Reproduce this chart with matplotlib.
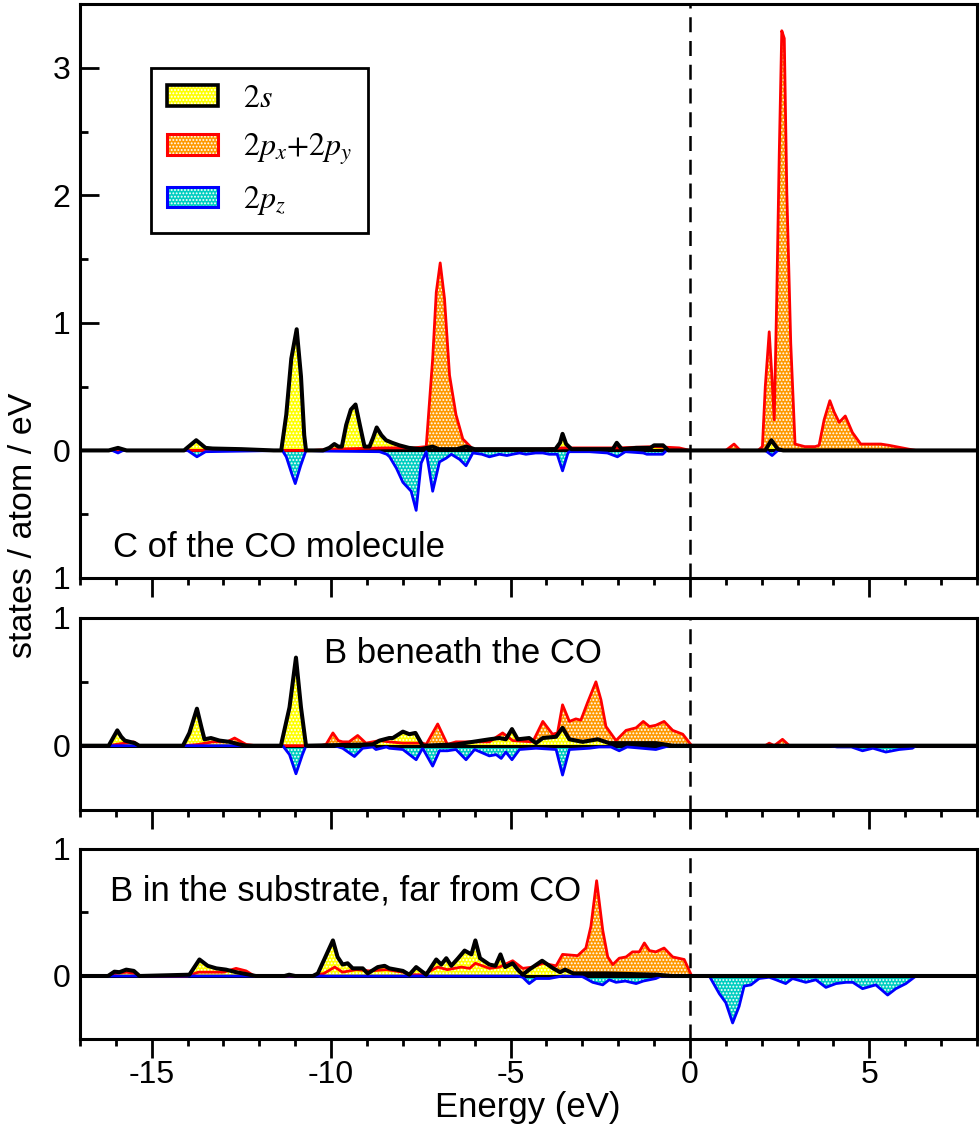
import numpy as np
import matplotlib
matplotlib.use("Agg")
import matplotlib.pyplot as plt
from matplotlib.patches import Patch
from matplotlib.ticker import MultipleLocator, FixedLocator, FixedFormatter

plt.rcParams['font.family'] = ['Liberation Sans', 'DejaVu Sans']
plt.rcParams['mathtext.fontset'] = 'stix'
plt.rcParams['axes.unicode_minus'] = False
plt.rcParams['hatch.linewidth'] = 0.9

# ---- data: (energy eV, states/atom/eV) ----
# top panel: C of the CO molecule
c_2s = [(-17, 0), (-16.2, 0), (-15.94, 0.02), (-15.7, 0), (-14.1, 0), (-13.76, 0.08),
        (-13.5, 0.02), (-13.3, 0.015), (-12.5, 0.01), (-11.6, 0), (-11.39, 0), (-11.25, 0.28),
        (-11.11, 0.72), (-10.96, 0.95), (-10.84, 0.58), (-10.75, 0.12), (-10.70, 0),
        (-10.23, 0), (-10.05, 0.02), (-9.91, 0.05), (-9.8, 0.03), (-9.7, 0.03), (-9.58, 0.2),
        (-9.45, 0.32), (-9.32, 0.36), (-9.2, 0.2), (-9.07, 0.03), (-8.93, 0.03), (-8.83, 0.1),
        (-8.73, 0.18), (-8.6, 0.12), (-8.47, 0.08), (-8.3, 0.06), (-8.1, 0.04), (-7.83, 0.02),
        (-7.5, 0.01), (-7.17, 0.03), (-7.0, 0.01), (-6.5, 0.01), (-6.24, 0.03), (-6.0, 0.01),
        (-5.0, 0.01), (-4.0, 0.01), (-3.75, 0.01), (-3.62, 0.06), (-3.55, 0.13), (-3.45, 0.05),
        (-3.3, 0.01), (-2.5, 0.01), (-2.15, 0.01), (-2.04, 0.06), (-1.9, 0.01), (-1.5, 0.02),
        (-1.1, 0.02), (-1.0, 0.04), (-0.75, 0.04), (-0.6, 0), (1.8, 0), (2.1, 0), (2.27, 0.08),
        (2.45, 0.01), (2.6, 0), (8, 0)]
c_pxy = [(-17, 0), (-10.5, 0), (-10, 0.01), (-8.5, 0.02), (-7.7, 0.02), (-7.35, 0.03),
         (-7.17, 0.72), (-7.07, 1.24), (-6.96, 1.47), (-6.84, 1.19), (-6.70, 0.59), (-6.52, 0.28),
         (-6.33, 0.09), (-6.05, 0.01), (-4, 0.01), (-3.55, 0.02), (-2, 0.02), (-1.0, 0.03),
         (-0.3, 0.02), (0, 0), (1.0, 0), (1.23, 0.05), (1.4, 0), (1.9, 0), (2.02, 0.03),
         (2.1, 0.5), (2.21, 0.93), (2.28, 0.6), (2.35, 0.24), (2.42, 1.2), (2.49, 2.33),
         (2.56, 3.29), (2.63, 3.23), (2.7, 2.03), (2.81, 0.84), (2.93, 0.05), (3.2, 0.03),
         (3.49, 0.03), (3.6, 0.04), (3.74, 0.24), (3.9, 0.39), (4.02, 0.3), (4.16, 0.22),
         (4.33, 0.27), (4.53, 0.14), (4.76, 0.05), (5.32, 0.05), (5.55, 0.04), (6.1, 0.01),
         (6.3, 0), (8, 0)]
c_pz = [(-17, 0), (-16.1, 0), (-15.94, -0.02), (-15.8, 0), (-14.0, 0), (-13.74, -0.05),
        (-13.5, -0.01), (-11.36, 0), (-11.25, -0.05), (-11.1, -0.18), (-11.0, -0.26),
        (-10.85, -0.12), (-10.7, 0), (-10.2, -0.005), (-8.65, -0.01), (-8.45, -0.03),
        (-8.37, -0.05), (-8.18, -0.14), (-8.0, -0.25), (-7.77, -0.32), (-7.63, -0.47),
        (-7.49, -0.1), (-7.35, -0.01), (-7.17, -0.32), (-6.98, -0.09), (-6.79, -0.06),
        (-6.65, -0.03), (-6.42, -0.07), (-6.24, -0.12), (-6.05, -0.02), (-5.8, -0.03),
        (-5.59, -0.05), (-5.31, -0.03), (-5.1, -0.04), (-4.94, -0.03), (-4.75, -0.02),
        (-4.57, -0.03), (-4.3, -0.02), (-4.1, -0.02), (-3.92, -0.03), (-3.7, -0.03),
        (-3.55, -0.16), (-3.4, -0.02), (-3.36, -0.01), (-2.8, -0.01), (-2.3, -0.02),
        (-2.02, -0.05), (-1.8, -0.01), (-1.3, -0.02), (-1.2, -0.03), (-0.76, -0.03),
        (-0.65, 0), (2.1, 0), (2.29, -0.04), (2.45, 0), (8, 0)]

# middle panel: B beneath the CO
bb_2s = [(-17, 0), (-16.2, 0), (-16.08, 0.06), (-15.96, 0.12), (-15.85, 0.07), (-15.75, 0.04),
         (-15.47, 0.02), (-15.35, 0), (-14.13, 0), (-13.95, 0.1), (-13.74, 0.29), (-13.62, 0.15),
         (-13.53, 0.05), (-13.35, 0.06), (-13.11, 0.04), (-12.83, 0.03), (-12.56, 0.01),
         (-12.37, 0), (-11.4, 0), (-11.16, 0.3), (-10.98, 0.69), (-10.84, 0.3), (-10.7, 0),
         (-8.84, 0.01), (-8.65, 0.04), (-8.38, 0.06), (-8.28, 0.06), (-8.0, 0.11), (-7.82, 0.09),
         (-7.65, 0.10), (-7.45, 0), (-6.52, 0.01), (-5.59, 0.05), (-5.31, 0.06), (-5.13, 0.05),
         (-4.96, 0.13), (-4.8, 0.05), (-4.48, 0.06), (-4.29, 0.02), (-4.1, 0.06), (-3.73, 0.07),
         (-3.55, 0.14), (-3.36, 0.05), (-2.99, 0.03), (-2.57, 0.05), (-2.25, 0.02),
         (-0.95, 0.02), (-0.48, 0), (8, 0)]
bb_pxy = [(-17, 0), (-16.2, 0), (-16.0, 0.01), (-15.5, 0.03), (-15.35, 0), (-14.1, 0),
          (-13.7, 0.01), (-13.3, 0.03), (-12.9, 0.03), (-12.69, 0.06), (-12.37, 0.01),
          (-12.1, 0), (-10.3, 0), (-10.14, 0.01), (-9.95, 0.1), (-9.8, 0.04), (-9.68, 0.03),
          (-9.5, 0.03), (-9.26, 0.08), (-9.03, 0.02), (-8.65, 0.04), (-8.38, 0.03), (-8.0, 0.02),
          (-7.45, 0.02), (-7.35, 0.01), (-7.03, 0.17), (-6.76, 0.01), (-6.52, 0.03),
          (-5.59, 0.03), (-5.22, 0.1), (-4.94, 0.04), (-4.38, 0.03), (-4.1, 0.19), (-3.83, 0.09),
          (-3.69, 0.1), (-3.55, 0.32), (-3.36, 0.19), (-3.18, 0.21), (-3.04, 0.2), (-2.85, 0.34),
          (-2.62, 0.50), (-2.48, 0.36), (-2.34, 0.15), (-2.06, 0.04), (-1.78, 0.12),
          (-1.5, 0.14), (-1.3, 0.19), (-1.13, 0.15), (-0.95, 0.16), (-0.72, 0.19),
          (-0.48, 0.12), (-0.2, 0.09), (0.05, 0), (2.1, 0), (2.21, 0.02), (2.35, 0.0),
          (2.58, 0.05), (2.77, 0), (8, 0)]
bb_pz = [(-17, 0), (-11.35, 0), (-11.16, -0.07), (-10.98, -0.22), (-10.8, -0.07), (-10.7, 0),
         (-9.9, 0), (-9.68, -0.02), (-9.35, -0.085), (-9.12, -0.02), (-8.84, -0.01),
         (-8.75, -0.03), (-8.46, -0.01), (-8.38, -0.02), (-8.0, -0.03), (-7.63, -0.11),
         (-7.45, -0.02), (-7.17, -0.16), (-6.98, -0.04), (-6.76, -0.04), (-6.52, -0.03),
         (-6.24, -0.11), (-6.0, -0.03), (-5.59, -0.08), (-5.4, -0.07), (-5.26, -0.1),
         (-5.13, -0.05), (-4.96, -0.11), (-4.75, -0.03), (-4.29, -0.02), (-3.73, -0.03),
         (-3.55, -0.23), (-3.36, -0.03), (-2.8, -0.02), (-2.53, -0.01), (-2.2, -0.01),
         (-1.97, -0.04), (-1.75, -0.01), (-0.95, -0.03), (-0.57, 0), (3.9, 0), (4.1, -0.01),
         (4.5, -0.01), (4.81, -0.04), (5.1, -0.02), (5.46, -0.05), (5.83, -0.03), (6.2, -0.02),
         (6.3, 0), (8, 0)]

# bottom panel: B in the substrate, far from CO
bf_2s = [(-17, 0), (-16.22, 0), (-16.04, 0.034), (-15.9, 0.03), (-15.71, 0.05), (-15.5, 0.04),
         (-15.34, 0), (-13.95, 0.01), (-13.67, 0.13), (-13.44, 0.08), (-13.2, 0.06),
         (-12.93, 0.05), (-12.65, 0.03), (-12.28, 0.01), (-12.1, 0), (-11.3, 0), (-11.17, 0.01),
         (-11.0, 0), (-10.51, 0), (-10.37, 0.02), (-9.95, 0.28), (-9.82, 0.15), (-9.68, 0.09),
         (-9.54, 0.1), (-9.4, 0.06), (-9.12, 0.06), (-8.98, 0.02), (-8.7, 0.07), (-8.51, 0.08),
         (-8.38, 0.06), (-8.0, 0.04), (-7.82, 0.01), (-7.63, 0.07), (-7.35, 0.01), (-7.07, 0.13),
         (-6.93, 0.09), (-6.79, 0.14), (-6.65, 0.08), (-6.46, 0.14), (-6.28, 0.2), (-6.09, 0.17),
         (-5.98, 0.28), (-5.85, 0.14), (-5.59, 0.09), (-5.42, 0.08), (-5.28, 0.17),
         (-5.15, 0.07), (-4.94, 0.1), (-4.8, 0.05), (-4.66, 0.01), (-4.48, 0.05), (-4.12, 0.12),
         (-3.81, 0.06), (-3.62, 0.03), (-3.48, 0.05), (-3.25, 0.02), (-2.32, 0.02),
         (-0.93, 0.01), (-0.5, 0), (8, 0)]
bf_pxy = [(-17, 0), (-16.22, 0), (-16.0, 0.02), (-15.7, 0.03), (-15.47, 0.02), (-15.34, 0),
          (-14.0, 0), (-13.7, 0.03), (-13.0, 0.03), (-12.65, 0.06), (-12.37, 0.04),
          (-12.14, 0), (-10.51, 0), (-10.2, 0.02), (-9.9, 0.07), (-9.68, 0.03), (-9.3, 0.05),
          (-8.93, 0.04), (-8.46, 0.05), (-8.0, 0.03), (-7.82, 0.01), (-7.45, 0.01),
          (-7.03, 0.07), (-6.76, 0.05), (-6.37, 0.07), (-6.14, 0.06), (-5.98, 0.1),
          (-5.59, 0.06), (-5.31, 0.07), (-4.94, 0.12), (-4.66, 0.06), (-4.38, 0.07),
          (-4.1, 0.1), (-3.73, 0.08), (-3.55, 0.17), (-3.13, 0.16), (-2.9, 0.22), (-2.76, 0.39),
          (-2.6, 0.75), (-2.43, 0.36), (-2.29, 0.15), (-2.15, 0.09), (-1.97, 0.14),
          (-1.78, 0.15), (-1.6, 0.19), (-1.41, 0.19), (-1.27, 0.26), (-1.13, 0.2),
          (-0.95, 0.19), (-0.72, 0.22), (-0.48, 0.15), (-0.16, 0.13), (0.05, 0), (8, 0)]
bf_pz = [(-17, 0), (-4.8, 0), (-4.66, -0.01), (-4.48, -0.06), (-4.29, -0.02), (-3.92, -0.02),
         (-3.55, 0), (-3.0, -0.005), (-2.9, -0.02), (-2.71, -0.05), (-2.43, -0.07),
         (-2.25, -0.03), (-2.06, -0.05), (-1.8, -0.04), (-1.5, -0.06), (-1.3, -0.04),
         (-0.95, -0.02), (-0.8, 0), (0.54, 0), (0.82, -0.14), (1.0, -0.21), (1.19, -0.37),
         (1.37, -0.24), (1.51, -0.08), (1.7, -0.07), (1.93, -0.02), (2.21, -0.01), (2.4, -0.03),
         (2.67, -0.06), (2.86, -0.02), (3.23, -0.05), (3.51, -0.03), (3.79, -0.09),
         (4.07, -0.06), (4.35, -0.05), (4.54, -0.05), (4.81, -0.1), (5.18, -0.07),
         (5.51, -0.15), (5.74, -0.1), (6.02, -0.06), (6.3, 0), (8, 0)]

panels = [
    ("C of the CO molecule", c_2s, c_pxy, c_pz),
    ("B beneath the CO", bb_2s, bb_pxy, bb_pz),
    ("B in the substrate, far from CO", bf_2s, bf_pxy, bf_pz),
]

fill_cols = {'s': '#ffff00', 'pxy': '#ff9900', 'pz': '#00cdc0'}
line_cols = {'s': 'black', 'pxy': '#ff0000', 'pz': '#0000ff'}
HATCH = '.....'

fig = plt.figure(figsize=(9.8, 11.3), dpi=100)
rects = [[0.0816, 0.4885, 0.9153, 0.508],
         [0.0816, 0.2836, 0.9153, 0.1695],
         [0.0816, 0.0801, 0.9153, 0.1686]]
ylims = [(-1, 3.5), (-0.5, 1), (-0.5, 1)]
label_pos = [(0.037, 0.037), (0.272, 0.763), (0.0334, 0.729)]

axes = []
for i, (name, s, pxy, pz) in enumerate(panels):
    ax = fig.add_axes(rects[i])
    axes.append(ax)
    s = np.array(s); pxy = np.array(pxy); pz = np.array(pz)

    ax.fill_between(pxy[:, 0], 0, pxy[:, 1], facecolor=fill_cols['pxy'],
                    edgecolor='white', hatch=HATCH, linewidth=0, zorder=1)
    ax.fill_between(s[:, 0], 0, s[:, 1], facecolor=fill_cols['s'],
                    edgecolor='white', hatch=HATCH, linewidth=0, zorder=1.1)
    ax.fill_between(pz[:, 0], 0, pz[:, 1], facecolor=fill_cols['pz'],
                    edgecolor='white', hatch=HATCH, linewidth=0, zorder=1.2)

    ax.axhline(0, color='black', lw=2.2, zorder=2)
    ax.plot(pxy[:, 0], pxy[:, 1], color=line_cols['pxy'], lw=2.0, zorder=3)
    ax.plot(pz[:, 0], pz[:, 1], color=line_cols['pz'], lw=2.0, zorder=3)
    ax.plot(s[:, 0], s[:, 1], color=line_cols['s'], lw=2.9, zorder=4)

    ax.axvline(0, color='black', lw=1.8, ls=(0, (6, 3.5)), zorder=5)

    ax.set_xlim(-17, 8)
    ax.set_ylim(*ylims[i])
    ax.xaxis.set_major_locator(MultipleLocator(5))
    ax.xaxis.set_minor_locator(MultipleLocator(1))
    ax.yaxis.set_major_locator(MultipleLocator(1))
    ax.yaxis.set_minor_locator(MultipleLocator(0.5))
    ax.tick_params(axis='x', which='major', direction='out', length=13.5, width=2,
                   labelsize=23, pad=1)
    ax.tick_params(axis='x', which='minor', direction='out', length=5, width=2)
    ax.tick_params(axis='y', which='major', direction='in', length=14, width=2,
                   labelsize=23, pad=7)
    ax.tick_params(axis='y', which='minor', direction='in', length=5.5, width=2)
    for sp in ax.spines.values():
        sp.set_linewidth(2.2)
    if i < 2:
        ax.tick_params(axis='x', labelbottom=False)

    ax.text(label_pos[i][0], label_pos[i][1], name, transform=ax.transAxes,
            fontsize=25, ha='left', va='baseline')

# the top panel shows "1" at its lowest tick
axes[0].yaxis.set_major_locator(FixedLocator([-1, 0, 1, 2, 3]))
axes[0].yaxis.set_major_formatter(FixedFormatter(['1', '0', '1', '2', '3']))

handles = [
    (Patch(facecolor=fill_cols['s'], edgecolor='white', hatch=HATCH, lw=0),
     Patch(facecolor='none', edgecolor=line_cols['s'], lw=2.6)),
    (Patch(facecolor=fill_cols['pxy'], edgecolor='white', hatch=HATCH, lw=0),
     Patch(facecolor='none', edgecolor=line_cols['pxy'], lw=2.2)),
    (Patch(facecolor=fill_cols['pz'], edgecolor='white', hatch=HATCH, lw=0),
     Patch(facecolor='none', edgecolor=line_cols['pz'], lw=2.2)),
]
labels = [r'$2s$', r'$2p_x{+}2p_y$', r'$2p_z$']
leg = axes[0].legend(handles, labels, loc='upper left', bbox_to_anchor=(0.079, 0.8885),
                     borderaxespad=0, fontsize=23, handlelength=1.6, handleheight=0.62,
                     handletextpad=0.8, borderpad=0.5, labelspacing=0.55,
                     fancybox=False, framealpha=1, edgecolor='black')
leg.get_frame().set_linewidth(2.0)

fig.text(24 / 980, 1 - 525 / 1130, 'states / atom / eV', rotation=90,
         fontsize=24.5, ha='center', va='center')
fig.text(528 / 980, 1 - 1108 / 1130, 'Energy (eV)', fontsize=25, ha='center', va='center')

fig.savefig('out.png', dpi=100)
